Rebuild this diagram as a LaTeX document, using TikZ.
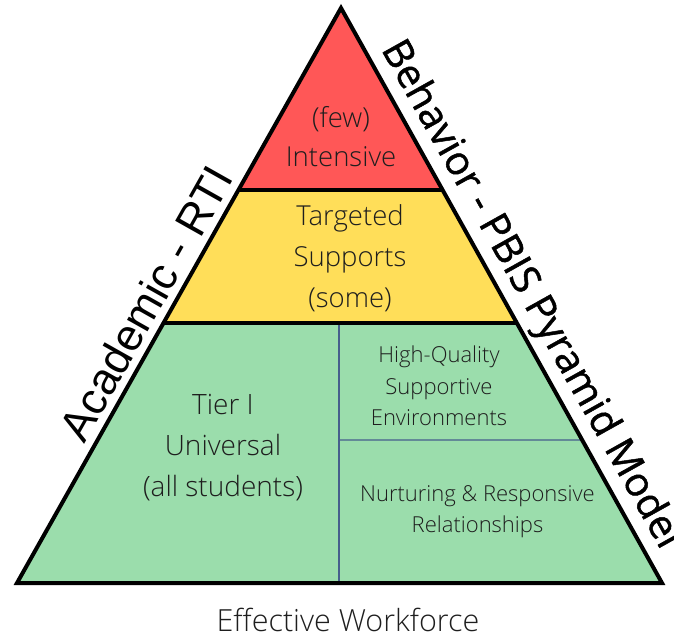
\documentclass[tikz,border=0pt]{standalone}
\usepackage{fontspec}
\setmainfont{Open Sans}
\newfontfamily\lightf{Open Sans Light}
\newfontfamily\semif[FakeBold=1.2]{Open Sans}
\newfontfamily\arialf{Liberation Sans}
\usetikzlibrary{calc}
\definecolor{tierred}{RGB}{255,87,87}
\definecolor{tieryellow}{RGB}{255,222,89}
\definecolor{tiergreen}{RGB}{155,221,172}
\definecolor{divblue}{RGB}{70,95,140}
\definecolor{txt}{RGB}{30,30,30}
\begin{document}
\begin{tikzpicture}[x=1pt,y=-1pt,
  tiertext/.style={align=center,text=txt,inner sep=0pt},
  edge/.style={line width=4pt,line join=miter,black},
  divider/.style={line width=1.4pt,divblue},
  sidelabel/.style={inner sep=0pt,anchor=base,text=black}]
\useasboundingbox (0,0) rectangle (674,640);
\clip (0,0) rectangle (674,640);
\coordinate (A) at (341,8);
\coordinate (L) at (17,583);
\coordinate (R) at (662,583);
\coordinate (l1) at ($(A)!0.3165!(L)$);
\coordinate (r1) at ($(A)!0.3165!(R)$);
\coordinate (l2) at ($(A)!0.5478!(L)$);
\coordinate (r2) at ($(A)!0.5478!(R)$);
\coordinate (r3) at ($(A)!0.7513!(R)$);
\coordinate (vtop) at (339,323);
\coordinate (vbot) at (339,585);
\coordinate (hleft) at (339,440);
% fills
\fill[tierred] (A) -- (r1) -- (l1) -- cycle;
\fill[tieryellow] (l1) -- (r1) -- (r2) -- (l2) -- cycle;
\fill[tiergreen] (l2) -- (r2) -- (R) -- (L) -- cycle;
% dividers
\draw[divider] (vtop) -- (vbot);
\draw[divider] (hleft) -- (r3);
% band lines and outline
\draw[edge] (l1) -- (r1);
\draw[edge] (l2) -- (r2);
\draw[edge] (A) -- (R) -- (L) -- cycle;
% texts
\node[tiertext,font=\lightf\fontsize{27.5}{39}\selectfont] (few) at (341,137) {(few)\\Intensive};
\node[tiertext,font=\lightf\fontsize{27.5}{41}\selectfont] (targ) at (350,258) {Targeted\\Supports\\(some)};
\node[tiertext,font=\lightf\fontsize{28}{41}\selectfont] (tier) at (223,448) {Tier I\\Universal\\(all students)};
\node[tiertext,font=\lightf\fontsize{22}{31.5}\selectfont] (hq) at (439,386) {High-Quality\\Supportive\\Environments};
\node[tiertext,font=\lightf\fontsize{22}{31}\selectfont] (nur) at (477.5,512) {Nurturing \& Responsive\\Relationships};
\node[tiertext,font=\lightf\fontsize{30.5}{36}\selectfont] (eff) at (348,620) {Effective Workforce};
% side labels
\node[sidelabel,rotate=60.6,font=\arialf\fontsize{44.5}{52}\selectfont] (acad) at (160,311) {Academic - RTI};
\node[sidelabel,rotate=-60.8,font=\semif\fontsize{40}{48}\selectfont] (beh) at (521,300) {Behavior - PBIS Pyramid Model};
\end{tikzpicture}
\end{document}
